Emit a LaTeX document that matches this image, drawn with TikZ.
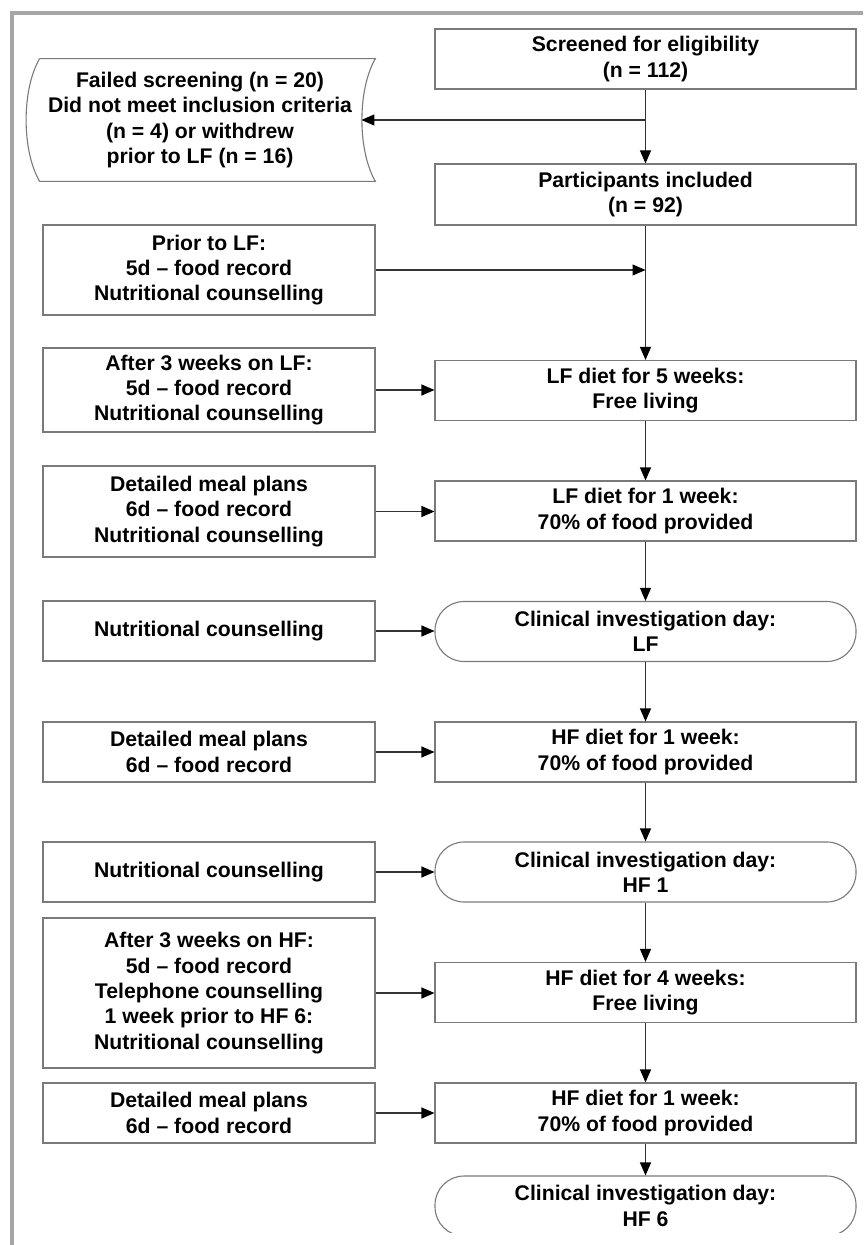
\documentclass[tikz,border=0pt]{standalone}
\usepackage{fontspec}
\setmainfont{Liberation Sans}
\usetikzlibrary{arrows.meta,calc}
\definecolor{bordergray}{HTML}{7A7A7A}
\definecolor{linegray}{HTML}{333333}
\definecolor{framegray}{HTML}{A6A6A6}
\tikzset{
  txt/.style={align=center, inner sep=0pt, font=\fontsize{10.6}{12.65}\selectfont\bfseries},
  box/.style={txt, draw=bordergray, line width=0.55pt, fill=white},
  lbox/.style={box, minimum width=166pt},
  rbox/.style={box, minimum width=210.5pt},
  clin/.style={rbox, rounded corners=14.5pt},
  conn/.style={draw=linegray, line width=0.55pt, -{Triangle[length=6.5pt,width=5.5pt,color=black]}},
  frameline/.style={draw=framegray, line width=1.6pt}
}
\begin{document}
\begin{tikzpicture}[x=0.5pt,y=-0.5pt]
\useasboundingbox (0,0) rectangle (863,1245);
\draw[frameline] (12,1245) -- (12,13) -- (863,13);

% right column
\node[rbox, minimum height=30pt] (s) at (645.5,59) {Screened for eligibility\\(n = 112)};
\node[rbox, minimum height=30.5pt] (p) at (645.5,194.5) {Participants included\\(n = 92)};
\node[rbox, minimum height=30pt] (d1) at (645.5,390.5) {LF diet for 5 weeks:\\Free living};
\node[rbox, minimum height=30pt] (d2) at (645.5,511) {LF diet for 1 week:\\70\% of food provided};
\node[clin, minimum height=30pt] (c1) at (645.5,631.5) {Clinical investigation day:\\LF};
\node[rbox, minimum height=30pt] (d3) at (645.5,752) {HF diet for 1 week:\\70\% of food provided};
\node[clin, minimum height=30pt] (c2) at (645.5,872) {Clinical investigation day:\\HF 1};
\node[rbox, minimum height=30pt] (d4) at (645.5,992.5) {HF diet for 4 weeks:\\Free living};
\node[rbox, minimum height=30pt] (d5) at (645.5,1113) {HF diet for 1 week:\\70\% of food provided};
\begin{scope}
\clip (0,0) rectangle (863,1232);
\node[clin, minimum height=30pt] (c3) at (645.5,1206) {Clinical investigation day:\\HF 6};
\end{scope}

% failed screening (stored data shape)
\node[txt, minimum width=175pt, minimum height=61pt] (f) at (200,120)
  {Failed screening (n = 20)\\Did not meet inclusion criteria\\(n = 4) or withdrew\\prior to LF (n = 16)};
\draw[draw=bordergray, line width=0.55pt]
  ([xshift=7.5pt]f.north west) -- (f.north east)
  .. controls ([xshift=-9pt,yshift=-15.5pt]f.north east) and ([xshift=-9pt,yshift=15.5pt]f.south east) .. (f.south east)
  -- ([xshift=7.5pt]f.south west)
  .. controls ([xshift=-1.5pt,yshift=15.5pt]f.south west) and ([xshift=-1.5pt,yshift=-15.5pt]f.north west) .. ([xshift=7.5pt]f.north west);
\coordinate (fe) at ([xshift=-7pt]f.east);

% left column
\node[lbox, minimum height=45pt] (pl) at (209,270) {Prior to LF:\\5d -- food record\\Nutritional counselling};
\node[lbox, minimum height=42pt] (a1) at (209,390) {After 3 weeks on LF:\\5d -- food record\\Nutritional counselling};
\node[lbox, minimum height=45.5pt] (m1) at (209,511.5) {Detailed meal plans\\6d -- food record\\Nutritional counselling};
\node[lbox, minimum height=30pt] (n1) at (209,631) {Nutritional counselling};
\node[lbox, minimum height=30pt] (m2) at (209,752) {Detailed meal plans\\6d -- food record};
\node[lbox, minimum height=30pt] (n2) at (209,872) {Nutritional counselling};
\node[lbox, minimum height=75pt] (a2) at (209,993) {After 3 weeks on HF:\\5d -- food record\\Telephone counselling\\1 week prior to HF 6:\\Nutritional counselling};
\node[lbox, minimum height=30pt] (m3) at (209,1113) {Detailed meal plans\\6d -- food record};

% vertical flow
\coordinate (j1) at (s.south |- f.east);
\coordinate (j2) at (p.south |- pl.east);
\draw[conn] (s.south) -- (p.north);
\draw[conn] (j1) -- (fe);
\draw[conn] (p.south) -- (d1.north);
\draw[conn] (pl.east) -- (j2);
\draw[conn] (d1.south) -- (d2.north);
\draw[conn] (d2.south) -- (c1.north);
\draw[conn] (c1.south) -- (d3.north);
\draw[conn] (d3.south) -- (c2.north);
\draw[conn] (c2.south) -- (d4.north);
\draw[conn] (d4.south) -- (d5.north);
\draw[conn] (d5.south) -- (c3.north);

% horizontal feeds
\draw[conn] (a1.east) -- (a1.east -| d1.west);
\draw[conn] (m1.east) -- (m1.east -| d2.west);
\draw[conn] (n1.east) -- (n1.east -| c1.west);
\draw[conn] (m2.east) -- (m2.east -| d3.west);
\draw[conn] (n2.east) -- (n2.east -| c2.west);
\draw[conn] (a2.east) -- (a2.east -| d4.west);
\draw[conn] (m3.east) -- (m3.east -| d5.west);
\end{tikzpicture}
\end{document}
